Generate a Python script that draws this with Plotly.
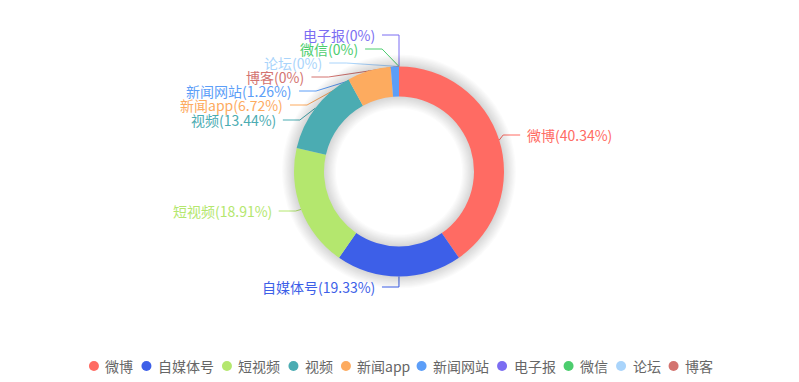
import math
import plotly.graph_objects as go

# ---------------- data ----------------
categories = ["微博", "自媒体号", "短视频", "视频", "新闻app", "新闻网站", "电子报", "微信", "论坛", "博客"]
values = [40.34, 19.33, 18.91, 13.44, 6.72, 1.26, 0, 0, 0, 0]
percent_text = ["40.34%", "19.33%", "18.91%", "13.44%", "6.72%", "1.26%", "0%", "0%", "0%", "0%"]

# ---------------- style / layout ----------------
colors = ["#ff6b63", "#3d5fe8", "#b4e76e", "#4bacb2", "#fdab5f",
          "#5c9ef8", "#7b6df2", "#4ccd6e", "#a9d4fb", "#d3736f"]
label_y_px = [135, 287, 211, 120, 105, 91, 35, 49, 63, 77]   # label rows (px from top of view)

OFF = 8                       # page body margin: figure starts 8px in
W, H = 799, 382
CX, CY = 399.0 - OFF, 171.5 - OFF
R_OUT, R_IN = 105.0, 75.0
R_ELBOW = 116.0               # radial length to the line elbow
ELL_A, ELL_B = 109.0, 124.0   # ellipse used to align shifted labels
FONT = "Noto Sans CJK SC, Microsoft YaHei, sans-serif"
LABEL_SIZE = 14
LEGEND_SIZE = 14
LEGEND_Y = 366 - OFF
LEGEND_CX = 400.5 - OFF


def domain_for(r):
    return dict(x=[(CX - r) / W, (CX + r) / W],
                y=[1 - (CY + r) / H, 1 - (CY - r) / H])


fig = go.Figure()

# hidden pixel-space axes (drawn beneath the pie layer) for leader lines & legend
fig.update_layout(
    xaxis=dict(range=[0, W], visible=False, fixedrange=True, domain=[0, 1]),
    yaxis=dict(range=[H, 0], visible=False, fixedrange=True, domain=[0, 1]),
)

# leader lines + labels
total = sum(values)
cum = 0.0
annotations = []
for cat, v, pct, col, ly0 in zip(categories, values, percent_text, colors, label_y_px):
    ly = ly0 - OFF
    mid = (cum + v / 2) / total * 2 * math.pi
    cum += v
    ax_ = CX + R_OUT * math.sin(mid)
    ay_ = CY - R_OUT * math.cos(mid)
    left = mid >= math.pi
    sgn = -1 if left else 1
    nat_x = CX + R_ELBOW * math.sin(mid)
    nat_y = CY - R_ELBOW * math.cos(mid)
    if abs(ly - nat_y) < 1.5:
        ex = nat_x
    else:
        dy = ly - CY
        ex = CX + sgn * ELL_A * math.sqrt(max(0.0, 1 - (dy / ELL_B) ** 2))
    hx = ex + sgn * 17
    fig.add_trace(go.Scatter(x=[ax_, ex, hx], y=[ay_, ly, ly], mode="lines",
                             line=dict(color=col, width=1), hoverinfo="skip",
                             showlegend=False))
    annotations.append(dict(x=ex + sgn * 22, y=ly, xref="x", yref="y",
                            text=f"{cat}({pct})", showarrow=False,
                            xanchor="right" if left else "left", yanchor="middle",
                            font=dict(family=FONT, size=LABEL_SIZE, color=col)))

# legend (manual, circle markers)
def text_w(s, size):
    return sum(size if ord(c) > 0x2E80 else size * 0.55 for c in s)

widths = [text_w(c, LEGEND_SIZE) for c in categories]
gap_after = 14.0
total_w = 5 + sum(10.5 + w for w in widths) + gap_after * (len(widths) - 1)
x = LEGEND_CX - total_w / 2 + 5
leg_x = []
for w in widths:
    leg_x.append(x)
    x += 10.5 + w + gap_after
fig.add_trace(go.Scatter(x=leg_x, y=[LEGEND_Y] * len(leg_x), mode="markers",
                         marker=dict(size=10, color=colors, symbol="circle"),
                         hoverinfo="skip", showlegend=False))
for lx, cat in zip(leg_x, categories):
    annotations.append(dict(x=lx + 9.5, y=LEGEND_Y, xref="x", yref="y", text=cat,
                            showarrow=False, xanchor="left", yanchor="middle",
                            font=dict(family=FONT, size=LEGEND_SIZE, color="#666666")))

# soft shadow rings
for k in range(1, 11):
    ro = R_OUT + 1.2 * k
    ri = R_IN - 1.2 * k
    fig.add_trace(go.Pie(values=[1], labels=["s"], hole=ri / ro, sort=False,
                         domain=domain_for(ro), textinfo="none", hoverinfo="skip",
                         marker=dict(colors=["rgba(0,0,0,0.014)"], line=dict(width=0)),
                         showlegend=False))

# donut
fig.add_trace(go.Pie(labels=categories, values=values, hole=R_IN / R_OUT, sort=False,
                     direction="clockwise", rotation=0, domain=domain_for(R_OUT),
                     textinfo="none", marker=dict(colors=colors, line=dict(width=0)),
                     showlegend=False))

fig.update_layout(width=W, height=H, margin=dict(l=0, r=0, t=0, b=0),
                  paper_bgcolor="white", plot_bgcolor="white",
                  showlegend=False, annotations=annotations,
                  font=dict(family=FONT))
fig.write_html("out.html")
